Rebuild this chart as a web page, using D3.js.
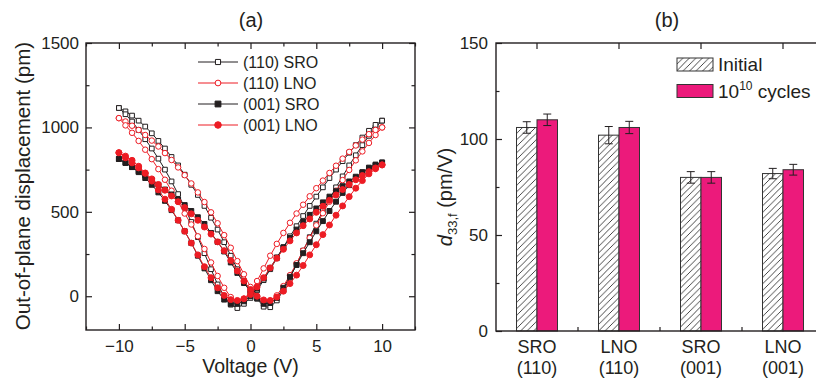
<!DOCTYPE html>
<html><head><meta charset="utf-8">
<script src="https://cdn.jsdelivr.net/npm/d3@7"></script>
<style>
body{margin:0;background:#fff;}
svg{display:block;font-family:"Liberation Sans",Arial,Helvetica,sans-serif;}
</style></head><body>
<svg id="c" width="816" height="378"></svg>
<script>
// ---------------- DATA ----------------
// Panel (a): voltage sweep grid (V)
const voltage = [-10,-9.5,-9,-8.5,-8,-7.5,-7,-6.5,-6,-5.5,-5,-4.5,-4,-3.5,-3,-2.5,-2,-1.5,-1,-0.5,0,0.5,1,1.5,2,2.5,3,3.5,4,4.5,5,5.5,6,6.5,7,7.5,8,8.5,9,9.5,10];
// displacement (pm) on the sweep -10 -> +10 ("up") and +10 -> -10 ("down"), listed by ascending voltage
const sro110Up   = [1115,1095,1070,1040,1005,965,920,875,825,775,720,660,600,535,465,395,320,240,160,90,35,-15,-62,-65,-25,35,110,190,270,350,430,505,575,645,710,775,835,895,950,1000,1040];
const sro110Down = [1115,1078,1035,985,930,875,815,750,680,605,525,440,350,255,160,70,0,-50,-70,-45,-10,35,95,160,225,290,355,415,475,535,590,645,700,750,800,850,895,940,980,1015,1040];
const lno110Up   = [1055,1035,1010,985,955,922,887,848,807,763,717,668,615,558,497,432,362,287,208,130,55,0,-30,-28,5,60,125,195,270,345,420,492,560,625,688,748,805,858,908,955,1000];
const lno110Down = [1055,1012,968,920,868,812,753,690,625,560,490,425,355,280,200,120,50,-5,-30,-15,25,90,165,240,310,375,435,490,542,592,640,685,730,773,815,855,893,928,960,985,1000];
const sro001Up   = [813,790,765,740,715,688,660,632,603,573,540,505,468,428,375,322,265,200,138,78,28,-12,-45,-40,-10,50,115,185,255,320,385,445,505,560,612,658,700,735,762,780,792];
const sro001Down = [813,790,765,735,700,660,615,565,510,450,385,315,240,165,95,30,-20,-45,-45,-30,0,45,105,168,230,290,345,395,440,482,520,556,590,622,652,680,708,732,755,775,792];
const lno001Up   = [850,820,790,760,728,695,662,628,594,560,525,488,450,410,368,322,270,212,150,90,40,0,-22,-25,-5,30,75,125,182,245,305,365,422,480,535,590,640,685,725,755,778];
const lno001Down = [850,830,805,770,730,682,630,575,515,450,385,315,245,175,110,50,5,-20,-25,-15,10,55,110,168,225,278,328,375,418,458,497,533,568,600,632,662,690,715,738,760,778];
const seriesNames = ["(110) SRO","(110) LNO","(001) SRO","(001) LNO"];
const xTicksA = [-10,-5,0,5,10];
const xMinorA = [-12.5,-7.5,-2.5,2.5,7.5,12.5];
const yTicksA = [0,500,1000,1500];
const yMinorA = [250,750,1250];

// Panel (b)
const catLine1 = ["SRO","LNO","SRO","LNO"];
const catLine2 = ["(110)","(110)","(001)","(001)"];
const initialVal = [106,102,80,82];
const initialErr = [3,4.5,3,2.7];
const cycledVal  = [110,106,80,84];
const cycledErr  = [3,3.2,3,2.8];
const yTicksB = [0,50,100,150];
const yMinorB = [25,75,125];

// ---------------- DRAW ----------------
const svg = d3.select("#c");
const BLACK = "#231f20", RED = "#ed1c24", PINK = "#ec1a7b", AX = "#231f20";
const fmt = d3.format("d");

const defs = svg.append("defs");
const pat = defs.append("pattern").attr("id","hatch").attr("patternUnits","userSpaceOnUse")
  .attr("width",6.5).attr("height",6.5);
pat.append("rect").attr("width",6.5).attr("height",6.5).attr("fill","#fff");
pat.append("path").attr("d","M-1,1 L1,-1 M0,6.5 L6.5,0 M5.5,7.5 L7.5,5.5")
  .attr("stroke","#333").attr("stroke-width",0.9);

// ===== Panel (a) =====
const A = {l:86, r:415, t:43, b:330};
const x = d3.scaleLinear().domain([-12.5,12.5]).range([A.l, A.r]);
const y = d3.scaleLinear().domain([-200,1500]).range([A.b, A.t]);
const gA = svg.append("g");

function axesGroup(g, axisGen, tx, ty, labels){
  const gg = g.append("g").attr("transform",`translate(${tx},${ty})`).call(axisGen);
  gg.select(".domain").remove();
  gg.selectAll("line").attr("stroke",AX).attr("stroke-width",1.2);
  gg.selectAll("text").attr("fill","#231f20").style("font-size","17px")
     .style("font-family","'Liberation Sans',Arial,sans-serif");
  if(!labels) gg.selectAll("text").remove();
  return gg;
}
// bottom & top
axesGroup(gA, d3.axisBottom(x).tickValues(xTicksA).tickSize(-6).tickPadding(8).tickFormat(fmt), 0, A.b, true)
  .selectAll("text").attr("dy","0.71em").attr("y",10);
axesGroup(gA, d3.axisBottom(x).tickValues(xMinorA).tickSize(-3.5), 0, A.b, false);
axesGroup(gA, d3.axisTop(x).tickValues(xTicksA).tickSize(-6), 0, A.t, false);
axesGroup(gA, d3.axisTop(x).tickValues(xMinorA).tickSize(-3.5), 0, A.t, false);
// left & right
axesGroup(gA, d3.axisLeft(y).tickValues(yTicksA).tickSize(-6).tickPadding(7).tickFormat(fmt), A.l, 0, true);
axesGroup(gA, d3.axisLeft(y).tickValues(yMinorA).tickSize(-3.5), A.l, 0, false);
axesGroup(gA, d3.axisRight(y).tickValues(yTicksA).tickSize(-6), A.r, 0, false);
axesGroup(gA, d3.axisRight(y).tickValues(yMinorA).tickSize(-3.5), A.r, 0, false);

const seriesA = [
  {name:seriesNames[0], up:sro110Up, down:sro110Down, color:BLACK, shape:d3.symbolSquare, size:22, filled:false},
  {name:seriesNames[1], up:lno110Up, down:lno110Down, color:RED,   shape:d3.symbolCircle, size:24, filled:false},
  {name:seriesNames[2], up:sro001Up, down:sro001Down, color:BLACK, shape:d3.symbolSquare, size:24, filled:true},
  {name:seriesNames[3], up:lno001Up, down:lno001Down, color:RED,   shape:d3.symbolCircle, size:28, filled:true}
];
const line = d3.line().x(p=>x(p.v)).y(p=>y(p.d));
seriesA.forEach(s=>{
  const pts = voltage.map((v,i)=>({v, d:s.up[i]}))
    .concat(voltage.map((v,i)=>({v, d:s.down[i]})).reverse());
  const g = gA.append("g");
  g.append("path").attr("d",line(pts)).attr("fill","none").attr("stroke",s.color).attr("stroke-width",1);
  g.selectAll("path.m").data(pts).join("path").attr("class","m")
    .attr("transform",p=>`translate(${x(p.v)},${y(p.d)})`)
    .attr("d",d3.symbol(s.shape,s.size))
    .attr("fill",s.filled? s.color : "#fff")
    .attr("stroke",s.color).attr("stroke-width",1);
});
gA.append("rect").attr("x",A.l).attr("y",A.t).attr("width",A.r-A.l).attr("height",A.b-A.t)
  .attr("fill","none").attr("stroke",AX).attr("stroke-width",1.4);

// legend (a)
const legA = gA.append("g");
seriesA.forEach((s,i)=>{
  const yy = 62 + i*21;
  legA.append("line").attr("x1",198).attr("x2",238).attr("y1",yy).attr("y2",yy).attr("stroke",s.color).attr("stroke-width",1);
  legA.append("path").attr("transform",`translate(218,${yy})`).attr("d",d3.symbol(s.shape, s.filled?34:26))
    .attr("fill",s.filled?s.color:"#fff").attr("stroke",s.color).attr("stroke-width",1);
  legA.append("text").attr("x",243).attr("y",yy+6).style("font-size","16px").attr("fill","#231f20").text(s.name);
});
gA.append("text").attr("x",251).attr("y",27).attr("text-anchor","middle").style("font-size","20px").attr("fill","#231f20").text("(a)");
gA.append("text").attr("x",(A.l+A.r)/2).attr("y",373).attr("text-anchor","middle").style("font-size","19.5px").attr("fill","#231f20").text("Voltage (V)");
gA.append("text").attr("transform","translate(30,186) rotate(-90)").attr("text-anchor","middle")
  .style("font-size","20.5px").attr("fill","#231f20").text("Out-of-plane displacement (pm)");

// ===== Panel (b) =====
const B = {l:496, r:824, t:43, b:331};
const xb = d3.scaleBand().domain(d3.range(catLine1.length)).range([B.l, B.r]).paddingInner(0).paddingOuter(0);
const xs = d3.scaleBand().domain(["initial","cycled"]).range([0, xb.bandwidth()]).paddingInner(0).paddingOuter(1);
const yb = d3.scaleLinear().domain([0,150]).range([B.b, B.t]);
const gB = svg.append("g");

const bars = [];
initialVal.forEach((v,i)=>{
  bars.push({i, k:"initial", v, e:initialErr[i]});
  bars.push({i, k:"cycled", v:cycledVal[i], e:cycledErr[i]});
});
gB.selectAll("rect.bar").data(bars).join("rect").attr("class","bar")
  .attr("x",d=>xb(d.i)+xs(d.k)).attr("width",xs.bandwidth())
  .attr("y",d=>yb(d.v)).attr("height",d=>yb(0)-yb(d.v))
  .attr("fill",d=>d.k==="initial"?"url(#hatch)":PINK)
  .attr("stroke","#333").attr("stroke-width",1);
const eb = gB.selectAll("g.err").data(bars).join("g").attr("class","err")
  .attr("transform",d=>`translate(${xb(d.i)+xs(d.k)+xs.bandwidth()/2},0)`);
eb.append("line").attr("y1",d=>yb(d.v-d.e)).attr("y2",d=>yb(d.v+d.e)).attr("stroke","#231f20").attr("stroke-width",1);
eb.append("line").attr("x1",-4).attr("x2",4).attr("y1",d=>yb(d.v+d.e)).attr("y2",d=>yb(d.v+d.e)).attr("stroke","#231f20").attr("stroke-width",1);
eb.append("line").attr("x1",-4).attr("x2",4).attr("y1",d=>yb(d.v-d.e)).attr("y2",d=>yb(d.v-d.e)).attr("stroke","#231f20").attr("stroke-width",1);

axesGroup(gB, d3.axisLeft(yb).tickValues(yTicksB).tickSize(-6).tickPadding(8).tickFormat(fmt), B.l, 0, true);
axesGroup(gB, d3.axisLeft(yb).tickValues(yMinorB).tickSize(-3.5), B.l, 0, false);
// top ticks at category centres, bottom ticks at category boundaries
const centers = d3.range(catLine1.length).map(i=>xb(i)+xb.bandwidth()/2);
const bounds = d3.range(1,catLine1.length).map(i=>xb(i));
gB.selectAll("line.tt").data(centers).join("line").attr("x1",d=>d).attr("x2",d=>d)
  .attr("y1",B.t).attr("y2",B.t+6).attr("stroke",AX).attr("stroke-width",1.2);
gB.selectAll("line.bt").data(bounds).join("line").attr("x1",d=>d).attr("x2",d=>d)
  .attr("y1",B.b).attr("y2",B.b-4).attr("stroke",AX).attr("stroke-width",1.2);
gB.append("rect").attr("x",B.l).attr("y",B.t).attr("width",B.r-B.l).attr("height",B.b-B.t)
  .attr("fill","none").attr("stroke",AX).attr("stroke-width",1.4);

const cl = gB.selectAll("g.cl").data(centers).join("g").attr("class","cl");
cl.append("text").attr("x",d=>d).attr("y",353).attr("text-anchor","middle").style("font-size","18px").attr("fill","#231f20").text((d,i)=>catLine1[i]);
cl.append("text").attr("x",d=>d).attr("y",374).attr("text-anchor","middle").style("font-size","18px").attr("fill","#231f20").text((d,i)=>catLine2[i]);

// legend (b)
gB.append("rect").attr("x",677).attr("y",58).attr("width",36).attr("height",13).attr("fill","url(#hatch)").attr("stroke","#333");
gB.append("text").attr("x",718).attr("y",71).style("font-size","19px").attr("fill","#231f20").text("Initial");
gB.append("rect").attr("x",677).attr("y",84.5).attr("width",36).attr("height",13).attr("fill",PINK).attr("stroke","#333");
const t2 = gB.append("text").attr("x",718).attr("y",98).style("font-size","19px").attr("fill","#231f20");
t2.append("tspan").text("10");
t2.append("tspan").attr("dy",-8).style("font-size","12px").text("10");
t2.append("tspan").attr("dy",8).text(" cycles");

gB.append("text").attr("x",667).attr("y",27).attr("text-anchor","middle").style("font-size","20px").attr("fill","#231f20").text("(b)");
const yl = gB.append("text").attr("transform","translate(452,197) rotate(-90)").attr("text-anchor","middle")
  .style("font-size","20px").attr("fill","#231f20");
yl.append("tspan").style("font-style","italic").text("d");
yl.append("tspan").attr("dy",5).style("font-size","13px").text("33,f");
yl.append("tspan").attr("dy",-5).text(" (pm/V)");
</script>
</body></html>
